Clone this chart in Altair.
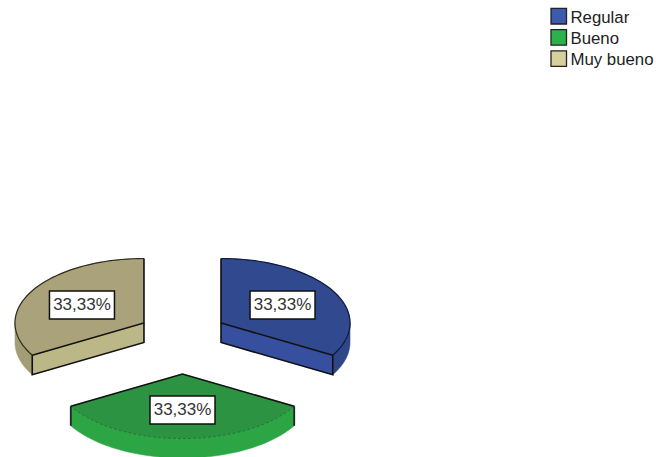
import math
import altair as alt
import pandas as pd

W, H = 656, 457

# Chart values
categories = ["Regular", "Bueno", "Muy bueno"]
shares = [33.33, 33.33, 33.33]
labels = ["33,33%", "33,33%", "33,33%"]
top_colors = ["#31498f", "#2b9341", "#a9a27b"]
front_colors = ["#36509f", "#2ca644", "#bcb787"]
rim_colors = ["#2f4689", "#2ca644", "#a39d76"]
edge_colors = ["#0f1a3a", "#1f6b30", "#2e2c1e"]
legend_colors = ["#3b5bad", "#2ab34b", "#d6d19c"]

# 3D pie geometry (pixels)
CX, CY = 182.5, 340.0
RX, RY = 129.0, 64.5
DEPTH = 19.5
EXPLODE_X, EXPLODE_Y = 44.5, 34.0

x_scale = alt.Scale(domain=[0, W], nice=False, zero=False)
y_scale = alt.Scale(domain=[H, 0], nice=False, zero=False)


def pt(ax, ay, deg, dz=0.0):
    a = math.radians(deg)
    return (ax + RX * math.sin(a), ay - RY * math.cos(a) + dz)


def arc(ax, ay, a0, a1, dz=0.0, n=48):
    return [pt(ax, ay, a0 + (a1 - a0) * i / n, dz) for i in range(n + 1)]


def poly(points, fill):
    df = pd.DataFrame(points, columns=["x", "y"])
    df["seq"] = range(len(df))
    return (
        alt.Chart(df)
        .mark_line(interpolate="linear-closed", fill=fill, stroke=fill, strokeWidth=0.5)
        .encode(
            x=alt.X("x:Q", scale=x_scale, axis=None),
            y=alt.Y("y:Q", scale=y_scale, axis=None),
            order="seq:Q",
        )
    )


def path(points, color, width=1.6, dash=None):
    df = pd.DataFrame(points, columns=["x", "y"])
    df["seq"] = range(len(df))
    kw = {"strokeDash": dash} if dash else {}
    return (
        alt.Chart(df)
        .mark_line(stroke=color, strokeWidth=width, **kw)
        .encode(
            x=alt.X("x:Q", scale=x_scale, axis=None),
            y=alt.Y("y:Q", scale=y_scale, axis=None),
            order="seq:Q",
        )
    )


layers = []
boxes = []
total = sum(shares)
start = 0.0
for i, name in enumerate(categories):
    end = start + shares[i] / total * 360.0
    mid = (start + end) / 2
    ax = CX + EXPLODE_X * math.sin(math.radians(mid))
    ay = CY - EXPLODE_Y * math.cos(math.radians(mid))
    apex = (ax, ay)

    # Visible outer wall: the part of the rim on the lower half of the ellipse
    r0, r1 = max(start, 90.0), min(end, 270.0)
    if r1 > r0:
        rim = arc(ax, ay, r0, r1) + arc(ax, ay, r1, r0, DEPTH)
        layers.append(poly(rim, rim_colors[i]))

    # Visible cut wall at the front of the wedge
    if i == 0:
        c = pt(ax, ay, end)
        wall = [apex, c, (c[0], c[1] + DEPTH), (ax, ay + DEPTH)]
        layers.append(poly(wall, front_colors[i]))
    elif i == 2:
        c = pt(ax, ay, start)
        wall = [apex, c, (c[0], c[1] + DEPTH), (ax, ay + DEPTH)]
        layers.append(poly(wall, front_colors[i]))

    # Top face
    layers.append(poly([apex] + arc(ax, ay, start, end), top_colors[i]))

    a_pt, b_pt = pt(ax, ay, start), pt(ax, ay, end)
    if i == 1:
        layers.append(path(arc(ax, ay, start, end), edge_colors[i], 0.8, [3, 2]))
        layers.append(path([a_pt, apex, b_pt], "#111111"))
        layers.append(path([a_pt, (a_pt[0], a_pt[1] + DEPTH)], "#222222", 1.8))
        layers.append(path([b_pt, (b_pt[0], b_pt[1] + DEPTH)], "#222222", 1.8))
    else:
        layers.append(path(arc(ax, ay, start, end), edge_colors[i], 1.2))
        layers.append(path([a_pt, apex, b_pt], "#111111"))
        c = b_pt if i == 0 else a_pt
        layers.append(path([apex, (ax, ay + DEPTH), (c[0], c[1] + DEPTH), c], "#111111"))

    # Value label anchors sit on each top face
    if i == 0:
        bx, by = ax + 61.5, ay - 18
    elif i == 2:
        bx, by = ax - 62, ay - 18
    else:
        bx, by = ax, ay + 36
    boxes.append({"label": labels[i], "x": bx, "y": by})
    start = end

# Value labels on white boxes
box_df = pd.DataFrame(boxes)
box_df["x0"] = box_df["x"] - 32.5
box_df["x1"] = box_df["x"] + 32.5
box_df["y0"] = box_df["y"] - 14
box_df["y1"] = box_df["y"] + 14
layers.append(
    alt.Chart(box_df)
    .mark_rect(fill="white", stroke="#111111", strokeWidth=1.5)
    .encode(
        x=alt.X("x0:Q", scale=x_scale, axis=None),
        x2="x1:Q",
        y=alt.Y("y0:Q", scale=y_scale, axis=None),
        y2="y1:Q",
    )
)
layers.append(
    alt.Chart(box_df)
    .mark_text(font="Liberation Sans", fontSize=17, color="#333333")
    .encode(
        x=alt.X("x:Q", scale=x_scale, axis=None),
        y=alt.Y("y:Q", scale=y_scale, axis=None),
        text="label:N",
    )
)

# Legend swatches and names
legend_df = pd.DataFrame({"name": categories, "color": legend_colors})
legend_df["y"] = [16.2 + 21.2 * k for k in range(len(legend_df))]
legend_df["y0"] = legend_df["y"] - 7.8
legend_df["y1"] = legend_df["y"] + 7.8
legend_df["x0"] = 551.0
legend_df["x1"] = 566.5
legend_df["tx"] = 570.5
legend_df["ty"] = legend_df["y"] + 1.5
layers.append(
    alt.Chart(legend_df)
    .mark_rect(stroke="#222222", strokeWidth=1.3)
    .encode(
        x=alt.X("x0:Q", scale=x_scale, axis=None),
        x2="x1:Q",
        y=alt.Y("y0:Q", scale=y_scale, axis=None),
        y2="y1:Q",
        fill=alt.Fill("color:N", scale=None),
    )
)
layers.append(
    alt.Chart(legend_df)
    .mark_text(font="Liberation Sans", fontSize=16.8, align="left", color="#222222")
    .encode(
        x=alt.X("tx:Q", scale=x_scale, axis=None),
        y=alt.Y("ty:Q", scale=y_scale, axis=None),
        text="name:N",
    )
)

chart = (
    alt.layer(*layers)
    .properties(width=W, height=H, padding=0, autosize=alt.AutoSizeParams(type="none"), background="white")
    .configure_view(stroke=None)
)

chart.save("out.html", embed_options={"renderer": "svg", "actions": False})
